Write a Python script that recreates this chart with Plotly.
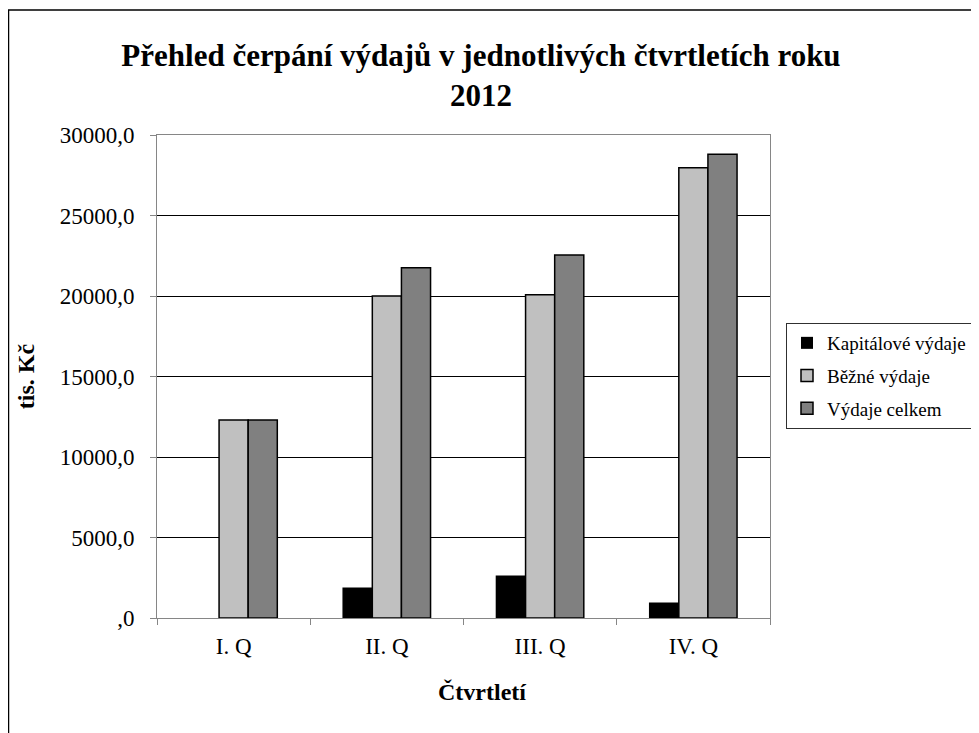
import plotly.graph_objects as go

categories = ["I. Q", "II. Q", "III. Q", "IV. Q"]
kapitalove = [0, 1850, 2600, 920]
bezne = [12300, 20000, 20070, 27970]
celkem = [12300, 21750, 22550, 28800]
series_names = ["Kapitálové výdaje", "Běžné výdaje", "Výdaje celkem"]
series_colors = ["#000000", "#C0C0C0", "#808080"]
y_tickvals = [0, 5000, 10000, 15000, 20000, 25000, 30000]
y_ticktext = [",0", "5000,0", "10000,0", "15000,0", "20000,0", "25000,0", "30000,0"]

FONT = "Liberation Serif"

fig = go.Figure()
for i, (name, vals) in enumerate(zip(series_names, [kapitalove, bezne, celkem])):
    fig.add_trace(go.Bar(
        x=categories, y=vals, name=name, legendgroup=name,
        marker=dict(color=series_colors[i],
                    line=dict(color="#000000", width=[0 if v == 0 else 1.5 for v in vals])),
    ))

# page has an 8px body margin; figure coords = reference coords - 8
W, H = 971, 725
L, R, T, B = 149, 209, 127, 115
pw, ph = W - L - R, H - T - B

fig.update_layout(
    width=W, height=H,
    margin=dict(l=L, r=R, t=T, b=B, autoexpand=False),
    paper_bgcolor="white", plot_bgcolor="white",
    font=dict(family=FONT, color="#000000", size=20),
    barmode="group", bargap=0.43, bargroupgap=0,
    title=dict(
        text="<b>Přehled čerpání výdajů v jednotlivých čtvrtletích roku<br>2012</b>",
        x=473 / W, xanchor="center", y=1 - 58 / H, yanchor="middle",
        font=dict(family=FONT, size=31, color="#000000"),
    ),
    legend=dict(
        x=(778 - L) / pw, xanchor="left", y=(610 - 315) / ph, yanchor="top",
        bordercolor="#303030", borderwidth=1, bgcolor="white",
        font=dict(family=FONT, size=19), tracegroupgap=5,
        itemwidth=30,
    ),
    showlegend=True,
)
fig.update_yaxes(
    range=[0, 30000], tickvals=y_tickvals, ticktext=y_ticktext,
    showgrid=True, gridcolor="#000000", gridwidth=1,
    showline=True, linecolor="#868686", linewidth=1, mirror=True,
    ticks="outside", ticklen=6, tickcolor="#868686", ticklabelstandoff=11,
    tickfont=dict(family=FONT, size=23), zeroline=False,
    title=dict(text="<b>tis. Kč</b>", font=dict(family=FONT, size=24), standoff=18),
)
fig.update_xaxes(
    showline=True, linecolor="#868686", linewidth=1, mirror=True,
    ticks="outside", ticklen=6, tickcolor="#868686", tickson="boundaries",
    ticklabelstandoff=7,
    tickfont=dict(family=FONT, size=23),
)
fig.add_annotation(
    text="<b>Čtvrtletí</b>", xref="paper", yref="paper",
    x=(474 - L) / pw, y=(610 - 684) / ph, xanchor="center", yanchor="middle",
    showarrow=False, font=dict(family=FONT, size=24),
)
# outer frame
fig.add_shape(type="rect", xref="paper", yref="paper",
              x0=(0.5 - L) / pw, x1=(1100 - L) / pw,
              y0=-1.0, y1=(H - B - 2) / ph,
              line=dict(color="#000000", width=1.5), fillcolor="rgba(0,0,0,0)", layer="below")

fig.write_html("out.html")
